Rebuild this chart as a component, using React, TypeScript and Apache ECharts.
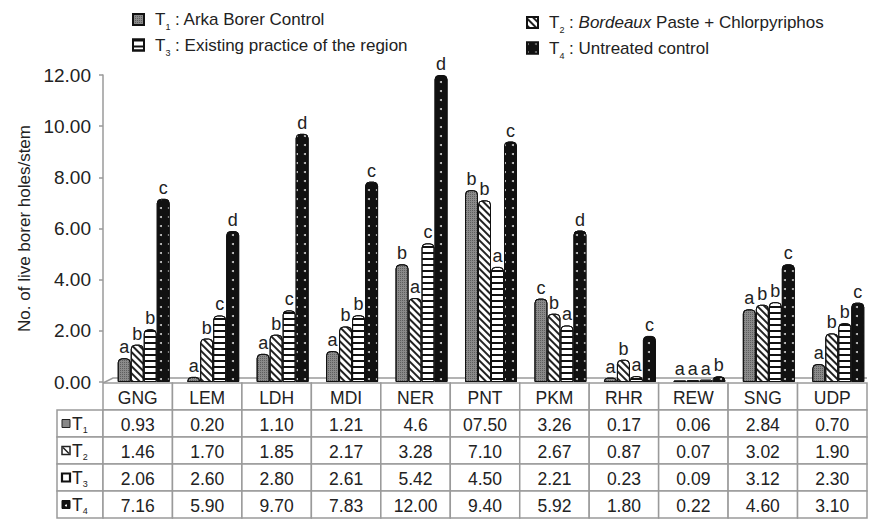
import React, { useEffect, useRef } from "react";
import * as echarts from "echarts";

// ---------- data ----------
const categories = ["GNG", "LEM", "LDH", "MDI", "NER", "PNT", "PKM", "RHR", "REW", "SNG", "UDP"];
const t1Text = ["0.93", "0.20", "1.10", "1.21", "4.6", "07.50", "3.26", "0.17", "0.06", "2.84", "0.70"];
const t2Text = ["1.46", "1.70", "1.85", "2.17", "3.28", "7.10", "2.67", "0.87", "0.07", "3.02", "1.90"];
const t3Text = ["2.06", "2.60", "2.80", "2.61", "5.42", "4.50", "2.21", "0.23", "0.09", "3.12", "2.30"];
const t4Text = ["7.16", "5.90", "9.70", "7.83", "12.00", "9.40", "5.92", "1.80", "0.22", "4.60", "3.10"];
const t1Letters = ["a", "a", "a", "a", "b", "b", "c", "a", "a", "a", "a"];
const t2Letters = ["b", "b", "b", "b", "a", "b", "b", "b", "a", "b", "b"];
const t3Letters = ["b", "c", "c", "b", "c", "a", "a", "a", "a", "b", "b"];
const t4Letters = ["c", "d", "d", "c", "d", "c", "d", "c", "b", "c", "c"];
const yTicks = [0, 2, 4, 6, 8, 10, 12];
const seriesNames = ["T1", "T2", "T3", "T4"];
const seriesSubs = ["1", "2", "3", "4"];
const yTitle = "No. of live borer holes/stem";

// ---------- style ----------
const FONT = "'Liberation Sans', Arial, sans-serif";
const TXT = "#222";
const LINE = "#9a9a9a";

const W = 869;
const H = 523;
const AXIS_X = 103;
const TABLE_RIGHT = 867;
const Y_TOP = 75;
const Y_ZERO = 382;
const BAR_SHIFT = 6;
const TABLE_TOP = 383;
const ROW_H = 27;
const LABEL_LEFT = 57;
const LEG_FS = 17;
const TABLE_FS = 17.5;

export default function App() {
  const ref = useRef<HTMLDivElement>(null);

  useEffect(() => {
    document.body.style.margin = "0";
    const chart = echarts.init(ref.current!, null, { renderer: "svg" });

    const texts = [t1Text, t2Text, t3Text, t4Text];
    const values = texts.map((arr) => arr.map(Number));
    const letters = [t1Letters, t2Letters, t3Letters, t4Letters];

    const fills = ["#8a8a8a", "#ffffff", "#ffffff", "#111111"];
    const decals: any[] = [
      { symbol: "rect", symbolSize: 1, color: "rgba(40,40,40,0.45)", dashArrayX: [1, 1], dashArrayY: [1, 1] },
      { symbol: "rect", symbolSize: 1, color: "#222", dashArrayX: [1, 0], dashArrayY: [1.6, 2.6], rotation: Math.PI / 4 },
      { symbol: "rect", symbolSize: 1, color: "#111", dashArrayX: [1, 0], dashArrayY: [1.6, 3.2], rotation: 0 },
      { symbol: "circle", symbolSize: 1, color: "#cfcfcf", dashArrayX: [1.6, 6], dashArrayY: [1.6, 7] },
    ];

    const rich = {
      t: { fontFamily: FONT, fontSize: LEG_FS, color: TXT, lineHeight: 24, padding: [0, 0, 0, 6] },
      s: { fontFamily: FONT, fontSize: 9, color: TXT, lineHeight: 10, verticalAlign: "bottom" },
      a: { fontFamily: FONT, fontSize: LEG_FS, color: TXT, lineHeight: 24 },
      i: { fontFamily: FONT, fontSize: LEG_FS, color: TXT, lineHeight: 24, fontStyle: "italic" },
    };
    const legendLabels: Record<string, string> = {
      T1: "{t|T}{s|1}{a| : Arka Borer Control}",
      T2: "{t|T}{s|2}{a| : }{i|Bordeaux}{a| Paste + Chlorpyriphos}",
      T3: "{t|T}{s|3}{a| : Existing practice of the region}",
      T4: "{t|T}{s|4}{a| : Untreated control}",
    };

    const colW = (TABLE_RIGHT - AXIS_X) / categories.length;
    const graphics: any[] = [];

    // 3D floor
    graphics.push({
      type: "polyline",
      shape: { points: [[AXIS_X, Y_ZERO + 1], [AXIS_X + 10, Y_ZERO - 4], [TABLE_RIGHT, Y_ZERO - 4]] },
      style: { stroke: LINE, lineWidth: 1.5, fill: null },
      z: 1,
    });

    const cellText = (x: number, y: number, text: string) => ({
      type: "text",
      x,
      y,
      style: {
        text,
        fontFamily: FONT,
        fontSize: TABLE_FS,
        fill: TXT,
        align: "center",
        verticalAlign: "middle",
        textAlign: "center",
        textVerticalAlign: "middle",
      },
      z: 10,
    });

    // header row
    categories.forEach((c, i) => {
      const x = AXIS_X + i * colW;
      graphics.push({
        type: "rect",
        shape: { x, y: TABLE_TOP, width: colW, height: ROW_H },
        style: { fill: "#fff", stroke: LINE, lineWidth: 1.5 },
        z: 5,
      });
      graphics.push(cellText(x + colW / 2, TABLE_TOP + ROW_H / 2 + 1, c));
    });

    // data rows
    texts.forEach((row, r) => {
      const y = TABLE_TOP + ROW_H * (r + 1);
      graphics.push({
        type: "rect",
        shape: { x: LABEL_LEFT, y, width: AXIS_X - LABEL_LEFT, height: ROW_H },
        style: { fill: "#fff", stroke: LINE, lineWidth: 1.5 },
        z: 5,
      });
      const kx = LABEL_LEFT + 5;
      const ky = y + ROW_H / 2 - 4;
      if (r === 0) {
        graphics.push({ type: "rect", shape: { x: kx, y: ky, width: 8, height: 8 }, style: { fill: "#888", stroke: "#222", lineWidth: 1 }, z: 11 });
      } else if (r === 1) {
        graphics.push({ type: "rect", shape: { x: kx, y: ky, width: 8, height: 8 }, style: { fill: "#fff", stroke: "#222", lineWidth: 1.5 }, z: 11 });
        graphics.push({ type: "line", shape: { x1: kx + 1, y1: ky + 1, x2: kx + 7, y2: ky + 7 }, style: { stroke: "#222", lineWidth: 1.5 }, z: 12 });
      } else if (r === 2) {
        graphics.push({ type: "rect", shape: { x: kx, y: ky, width: 8, height: 8 }, style: { fill: "#fff", stroke: "#111", lineWidth: 2.2 }, z: 11 });
      } else {
        graphics.push({ type: "rect", shape: { x: kx, y: ky, width: 8, height: 8 }, style: { fill: "#111", stroke: "#111", lineWidth: 1 }, z: 11 });
        graphics.push({ type: "circle", shape: { cx: kx + 4, cy: ky + 5, r: 1 }, style: { fill: "#fff" }, z: 12 });
      }
      graphics.push({
        type: "text",
        x: LABEL_LEFT + 15,
        y: y + ROW_H / 2,
        style: {
          text: "{a|T}{s|" + seriesSubs[r] + "}",
          rich: {
            a: { fontFamily: FONT, fontSize: TABLE_FS, fill: TXT, color: TXT, lineHeight: 22 },
            s: { fontFamily: FONT, fontSize: 9, fill: TXT, color: TXT, lineHeight: 10, verticalAlign: "bottom" },
          },
          verticalAlign: "middle",
          textVerticalAlign: "middle",
        },
        z: 10,
      });
      row.forEach((v, i) => {
        const x = AXIS_X + i * colW;
        graphics.push({
          type: "rect",
          shape: { x, y, width: colW, height: ROW_H },
          style: { fill: "#fff", stroke: LINE, lineWidth: 1.5 },
          z: 5,
        });
        graphics.push(cellText(x + colW / 2, y + ROW_H / 2 + 1, v));
      });
    });

    const legendBase = {
      orient: "vertical",
      padding: 0,
      itemWidth: 11,
      itemHeight: 11,
      itemGap: 5,
      icon: "rect",
      selectedMode: false,
      formatter: (n: string) => legendLabels[n],
      textStyle: { fontFamily: FONT, fontSize: LEG_FS, color: TXT, rich },
    };

    const option: any = {
      animation: false,
      backgroundColor: "#fff",
      textStyle: { fontFamily: FONT },
      grid: {
        left: AXIS_X + BAR_SHIFT,
        right: W - TABLE_RIGHT - BAR_SHIFT,
        top: Y_TOP,
        bottom: H - Y_ZERO,
        outerBoundsMode: "none",
        containLabel: false,
      },
      legend: [
        { ...legendBase, data: ["T1", "T3"], left: 132, top: 11 },
        { ...legendBase, data: ["T2", "T4"], left: 526, top: 14 },
      ],
      xAxis: {
        type: "category",
        data: categories,
        axisLine: { show: false },
        axisTick: { show: false },
        axisLabel: { show: false },
        splitLine: { show: false },
      },
      yAxis: {
        type: "value",
        min: yTicks[0],
        max: yTicks[yTicks.length - 1],
        interval: yTicks[1] - yTicks[0],
        offset: BAR_SHIFT,
        name: yTitle,
        nameLocation: "middle",
        nameGap: 67,
        nameTextStyle: { fontFamily: FONT, fontSize: 17, color: TXT },
        axisLine: { show: true, lineStyle: { color: LINE, width: 1.5 } },
        axisTick: { show: true, length: 4, lineStyle: { color: LINE, width: 1.5 } },
        axisLabel: {
          margin: 12,
          fontFamily: FONT,
          fontSize: 19,
          color: TXT,
          formatter: (v: number) => v.toFixed(2),
        },
        splitLine: { show: false },
      },
      series: seriesNames.map((name, s) => ({
        name,
        type: "bar",
        data: values[s],
        barWidth: 13,
        barGap: "0%",
        itemStyle: {
          color: fills[s],
          borderColor: "#111",
          borderWidth: 1,
          borderRadius: [4, 4, 0, 0],
          decal: decals[s],
        },
        label: {
          show: true,
          position: "top",
          distance: 2,
          fontFamily: FONT,
          fontSize: 18,
          color: TXT,
          formatter: (p: any) => letters[s][p.dataIndex],
        },
        z: 3,
      })),
      graphic: graphics,
    };

    chart.setOption(option);
    return () => chart.dispose();
  }, []);

  return <div ref={ref} style={{ width: W, height: H }} />;
}
